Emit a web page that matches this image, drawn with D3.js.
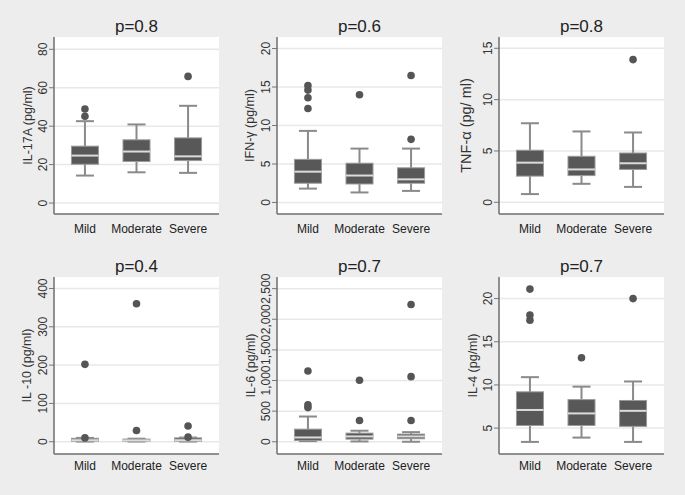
<!DOCTYPE html>
<html>
<head>
<meta charset="utf-8">
<style>
  body { margin: 0; background: #ededed; }
  text { font-family: Arial, "Liberation Sans", sans-serif; }
</style>
</head>
<body>
<div id="chart"></div>
<script src="https://d3js.org/d3.v7.min.js"></script>
<script>
var groups = ["Mild", "Moderate", "Severe"];
var titles = ["p=0.8", "p=0.6", "p=0.8", "p=0.4", "p=0.7", "p=0.7"];
var yLabels = ["IL-17A (pg/ml)", "IFN-\u03b3 (pg/ml)", "TNF-\u03b1 (pg/ ml)", "IL -10 (pg/ml)", "IL-6 (pg/ml)", "IL-4 (pg/ml)"];
var yTicks = [[0, 20, 40, 60, 80], [0, 5, 10, 15, 20], [0, 5, 10, 15], [0, 100, 200, 300, 400], [0, 500, 1000, 1500, 2000, 2500], [5, 10, 15, 20]];
var yDomains = [[-5.7, 86.4], [-1.5, 21.5], [-1.14, 16.1], [-32, 430], [-200, 2690], [2, 22.5]];

// box stats per group: [lower whisker, q1, median, q3, upper whisker]
var il17a = [[14.3, 20.2, 24.7, 29.6, 42.6], [16, 21.6, 26.8, 32.9, 40.9], [15.7, 22.1, 24.3, 33.9, 50.6]];
var il17aOut = [[45.2, 48.9], [], [65.9]];
var ifng = [[1.8, 2.5, 4.0, 5.6, 9.3], [1.3, 2.4, 3.5, 5.1, 7.0], [1.5, 2.5, 3.0, 4.5, 7.0]];
var ifngOut = [[12.2, 13.6, 14.6, 15.2], [14.0], [8.2, 16.5]];
var tnfa = [[0.8, 2.55, 3.86, 5.07, 7.7], [1.8, 2.6, 3.2, 4.48, 6.9], [1.5, 3.2, 3.8, 4.8, 6.8]];
var tnfaOut = [[], [], [13.9]];
var il10 = [[0.5, 1.5, 4, 9, 10], [0.5, 1.5, 3.5, 7, 8], [0.5, 1.5, 4, 10, 11]];
var il10Out = [[10, 202], [29.5, 360], [12, 41]];
var il6 = [[10, 22, 70, 206, 412], [5, 43, 87, 141, 180], [0, 49, 87, 125, 157]];
var il6Out = [[558, 602, 1155], [347, 1003], [347, 1063, 2240]];
var il4 = [[3.4, 5.3, 7.1, 9.2, 10.9], [3.9, 5.3, 6.7, 8.3, 9.8], [3.4, 5.2, 7.0, 8.2, 10.4]];
var il4Out = [[17.5, 18.1, 21.1], [13.15], [20]];

var boxes = [il17a, ifng, tnfa, il10, il6, il4];
var outliers = [il17aOut, ifngOut, tnfaOut, il10Out, il6Out, il4Out];

var width = 685, height = 495;
var colX = [54, 277, 499];
var rowY = [37, 277];
var pw = 165, ph = 177;
var labelX = [[28, 250, 466], [27, 251, 473]];

var svg = d3.select("#chart").append("svg")
    .attr("width", width)
    .attr("height", height);

svg.append("rect").attr("width", width).attr("height", height).attr("fill", "#ededed");

titles.forEach(function(t, i) {
  var row = Math.floor(i / 3), col = i % 3;
  var x0 = colX[col], y0 = rowY[row];
  var g = svg.append("g").attr("transform", "translate(" + x0 + "," + y0 + ")");

  var x = d3.scalePoint().domain(groups).range([0, pw]).padding(0.6);
  var y = d3.scaleLinear().domain(yDomains[i]).range([ph, 0]);

  g.append("rect").attr("width", pw).attr("height", ph).attr("fill", "#fff");

  // grid
  g.selectAll(".grid").data(yTicks[i]).enter().append("line")
      .attr("x1", 0).attr("x2", pw)
      .attr("y1", d => y(d)).attr("y2", d => y(d))
      .attr("stroke", "#e8e8e8").attr("stroke-width", 1.5);

  // y axis
  var fmt = i === 4 ? d3.format(",") : d3.format("d");
  var ay = g.append("g").call(d3.axisLeft(y).tickValues(yTicks[i]).tickSize(5).tickFormat(fmt));
  ay.select(".domain").remove();
  ay.selectAll("line").attr("stroke", "#777");
  ay.selectAll("text")
      .attr("x", 0).attr("dy", null)
      .attr("transform", d => "translate(-11," + y(d) + ") rotate(-90)")
      .attr("y", 0)
      .attr("text-anchor", "middle")
      .attr("dominant-baseline", "central")
      .attr("font-size", 12)
      .attr("fill", "#333");
  ay.selectAll(".tick").attr("transform", null);
  ay.selectAll(".tick line").attr("y1", d => y(d)).attr("y2", d => y(d));

  // axis lines
  g.append("line").attr("x1", 0).attr("x2", 0).attr("y1", 0).attr("y2", ph)
      .attr("stroke", "#6e6e6e").attr("stroke-width", 1.5);
  g.append("line").attr("x1", 0).attr("x2", pw).attr("y1", ph).attr("y2", ph)
      .attr("stroke", "#6e6e6e").attr("stroke-width", 1.5);

  // x labels
  g.selectAll(".xl").data(groups).enter().append("text")
      .attr("x", d => x(d)).attr("y", ph + (row === 0 ? 19 : 16))
      .attr("text-anchor", "middle")
      .attr("font-size", 12)
      .attr("fill", "#222")
      .text(d => d);

  // title
  g.append("text").attr("x", pw / 2).attr("y", -5)
      .attr("text-anchor", "middle").attr("font-size", 17).attr("fill", "#222")
      .text(t);

  // y title
  svg.append("text")
      .attr("transform", "translate(" + labelX[row][col] + "," + (y0 + ph / 2) + ") rotate(-90)")
      .attr("text-anchor", "middle").attr("dominant-baseline", "central")
      .attr("font-size", i === 2 ? 14.5 : 12.5).attr("fill", "#333")
      .text(yLabels[i]);

  // boxes
  var bw = 27, cw = 18;
  var b = g.selectAll(".box").data(boxes[i]).enter().append("g")
      .attr("transform", (d, k) => "translate(" + x(groups[k]) + ",0)");
  b.append("line").attr("y1", d => y(d[0])).attr("y2", d => y(d[1]))
      .attr("stroke", "#8a8a8a").attr("stroke-width", 2);
  b.append("line").attr("y1", d => y(d[3])).attr("y2", d => y(d[4]))
      .attr("stroke", "#8a8a8a").attr("stroke-width", 2);
  b.append("line").attr("x1", -cw / 2).attr("x2", cw / 2).attr("y1", d => y(d[0])).attr("y2", d => y(d[0]))
      .attr("stroke", "#8a8a8a").attr("stroke-width", 2);
  b.append("line").attr("x1", -cw / 2).attr("x2", cw / 2).attr("y1", d => y(d[4])).attr("y2", d => y(d[4]))
      .attr("stroke", "#8a8a8a").attr("stroke-width", 2);
  b.append("rect").attr("x", -bw / 2).attr("width", bw)
      .attr("y", d => y(d[3])).attr("height", d => y(d[1]) - y(d[3]))
      .attr("fill", "#585858").attr("stroke", "#9a9a9a").attr("stroke-width", 1);
  b.append("line").attr("x1", -bw / 2).attr("x2", bw / 2).attr("y1", d => y(d[2])).attr("y2", d => y(d[2]))
      .attr("stroke", "#dcdcdc").attr("stroke-width", 2);

  // outliers
  outliers[i].forEach(function(arr, k) {
    g.selectAll(null).data(arr).enter().append("circle")
        .attr("cx", x(groups[k])).attr("cy", d => y(d)).attr("r", 3.8)
        .attr("fill", "#555");
  });
});
</script>
</body>
</html>
